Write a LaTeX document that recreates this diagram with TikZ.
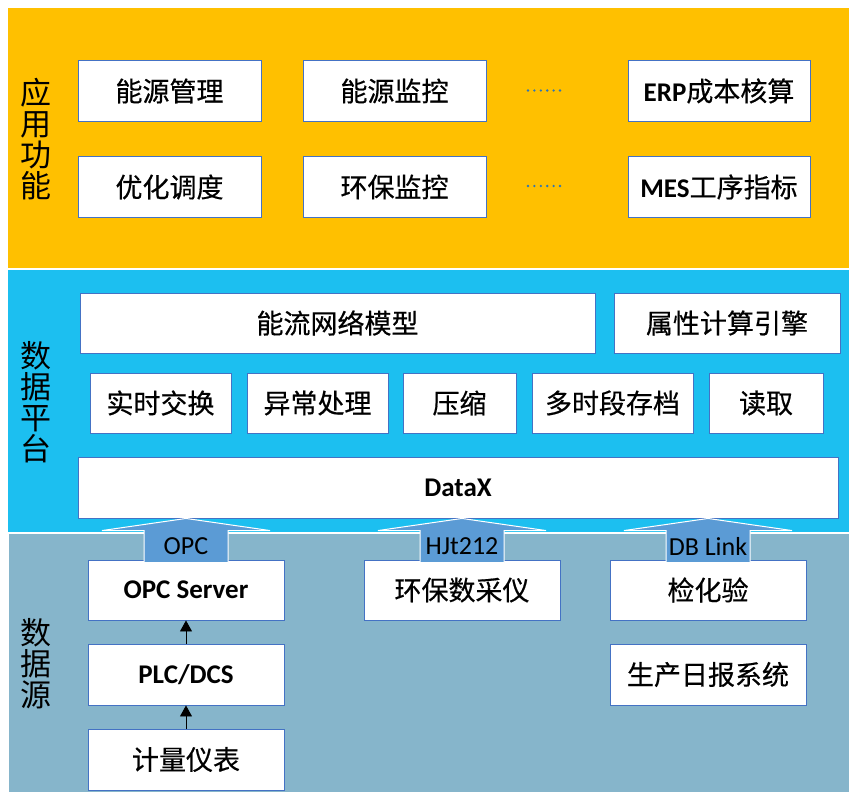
\documentclass[tikz,border=0pt]{standalone}
\usepackage{fontspec}
\setmainfont{Noto Sans CJK SC}
\newfontfamily\zhbox{Noto Sans CJK SC}[FakeBold=0.5]
\newfontfamily\lat{Carlito}
\usepackage{tikz}
\usetikzlibrary{calc,arrows.meta,positioning}
\definecolor{bandorange}{HTML}{FFC000}
\definecolor{bandblue}{HTML}{1CBFF0}
\definecolor{bandgray}{HTML}{86B5CB}
\definecolor{boxline}{HTML}{4472C4}
\definecolor{arrowblue}{HTML}{5B9BD5}
\definecolor{dotblue}{HTML}{2E75B6}
\tikzset{
  box/.style={draw=boxline, fill=white, line width=0.9pt, inner sep=0pt,
  text centered, minimum height=61pt, font=\zhbox\fontsize{27}{30}\selectfont},
  layer/.style={align=center, inner sep=0pt,
  font=\fontsize{31}{31}\selectfont},
  blockarr/.style={fill=arrowblue, draw=white, line width=1pt},
  arrlabel/.style={inner sep=0pt, font=\lat\fontsize{26}{28}\selectfont},
  uparrow/.style={draw=black, line width=0.8pt,
  -{Triangle[width=12pt,length=11pt]}}
}
\begin{document}
\begin{tikzpicture}[x=1pt,y=-1pt]
\useasboundingbox (0,0) rectangle (849,792);
% bands
\fill[bandorange] (8,8) rectangle (849,268);
\fill[bandblue] (8,270) rectangle (849,532);
\fill[bandgray] (9,534) rectangle (849,792);
\node[layer] (lapp) at (36,139) {应\\用\\功\\能};
\node[layer] (ldata) at (36,402) {数\\据\\平\\台};
\node[layer] (lsrc) at (36,664) {数\\据\\源};
% application layer
\node[box, minimum width=183pt] (nygl) at (169.5,91) {能源管理};
\node[box, minimum width=183pt] (nyjk) at (394.5,91) {能源监控};
\node[box, minimum width=182pt] (erp) at (719,91) {{\lat\bfseries ERP}成本核算};
\node[box, minimum width=183pt] (yhdd) at (169.5,187) {优化调度};
\node[box, minimum width=183pt] (hbjk) at (394.5,187) {环保监控};
\node[box, minimum width=182pt] (mes) at (719,187) {{\lat\bfseries MES}工序指标};
\foreach \y in {90.5,186} {
  \foreach \i in {0,...,5}
    \fill[dotblue] (528+6.4*\i,\y) circle (1.3pt);
}
% data platform
\node[box, minimum width=515pt, minimum height=60pt] (model) at (337.5,323) {能流网络模型};
\node[box, minimum width=226pt, minimum height=60pt] (engine) at (727,323) {属性计算引擎};
\node[box, minimum width=141pt, minimum height=60pt] (ssjh) at (160.5,403) {实时交换};
\node[box, minimum width=141pt, minimum height=60pt] (yccl) at (317.5,403) {异常处理};
\node[box, minimum width=113pt, minimum height=60pt] (ys) at (459.5,403) {压缩};
\node[box, minimum width=161pt, minimum height=60pt] (dsd) at (612.5,403) {多时段存档};
\node[box, minimum width=114pt, minimum height=60pt] (dq) at (766,403) {读取};
\node[box, minimum width=760pt] (datax) at (458,487.5) {\lat\bfseries DataX};
% data sources
\node[box, minimum width=196pt, minimum height=60pt] (opc) at (186,590) {\lat\bfseries OPC Server};
\node[box, minimum width=196pt] (plc) at (186,674.5) {\lat\bfseries PLC/DCS};
\node[box, minimum width=196pt] (jlyb) at (186,759.5) {计量仪表};
\node[box, minimum width=196pt, minimum height=60pt] (hbsc) at (462,590) {环保数采仪};
\node[box, minimum width=196pt, minimum height=60pt] (jhy) at (708,590) {检化验};
\node[box, minimum width=196pt] (scrb) at (708,674.5) {生产日报系统};
\draw[uparrow] (plc.north) -- (opc.south);
\draw[uparrow] (jlyb.north) -- (plc.south);
% interfaces into DataX
\foreach \src/\txt in {opc/OPC, hbsc/HJt212, jhy/DB Link} {
  \draw[blockarr] ($(\src.north)+(-42,3)$) -- ++(0,-32) -- ++(-42,0)
    -- (\src.north |- datax.south) -- ($(\src.north)+(84,-29)$)
    -- ++(-42,0) -- ($(\src.north)+(42,3)$) -- cycle;
  \node[arrlabel] (\src-if) at ($(\src.north)+(0,-13)$) {\txt};
}
\end{tikzpicture}
\end{document}
